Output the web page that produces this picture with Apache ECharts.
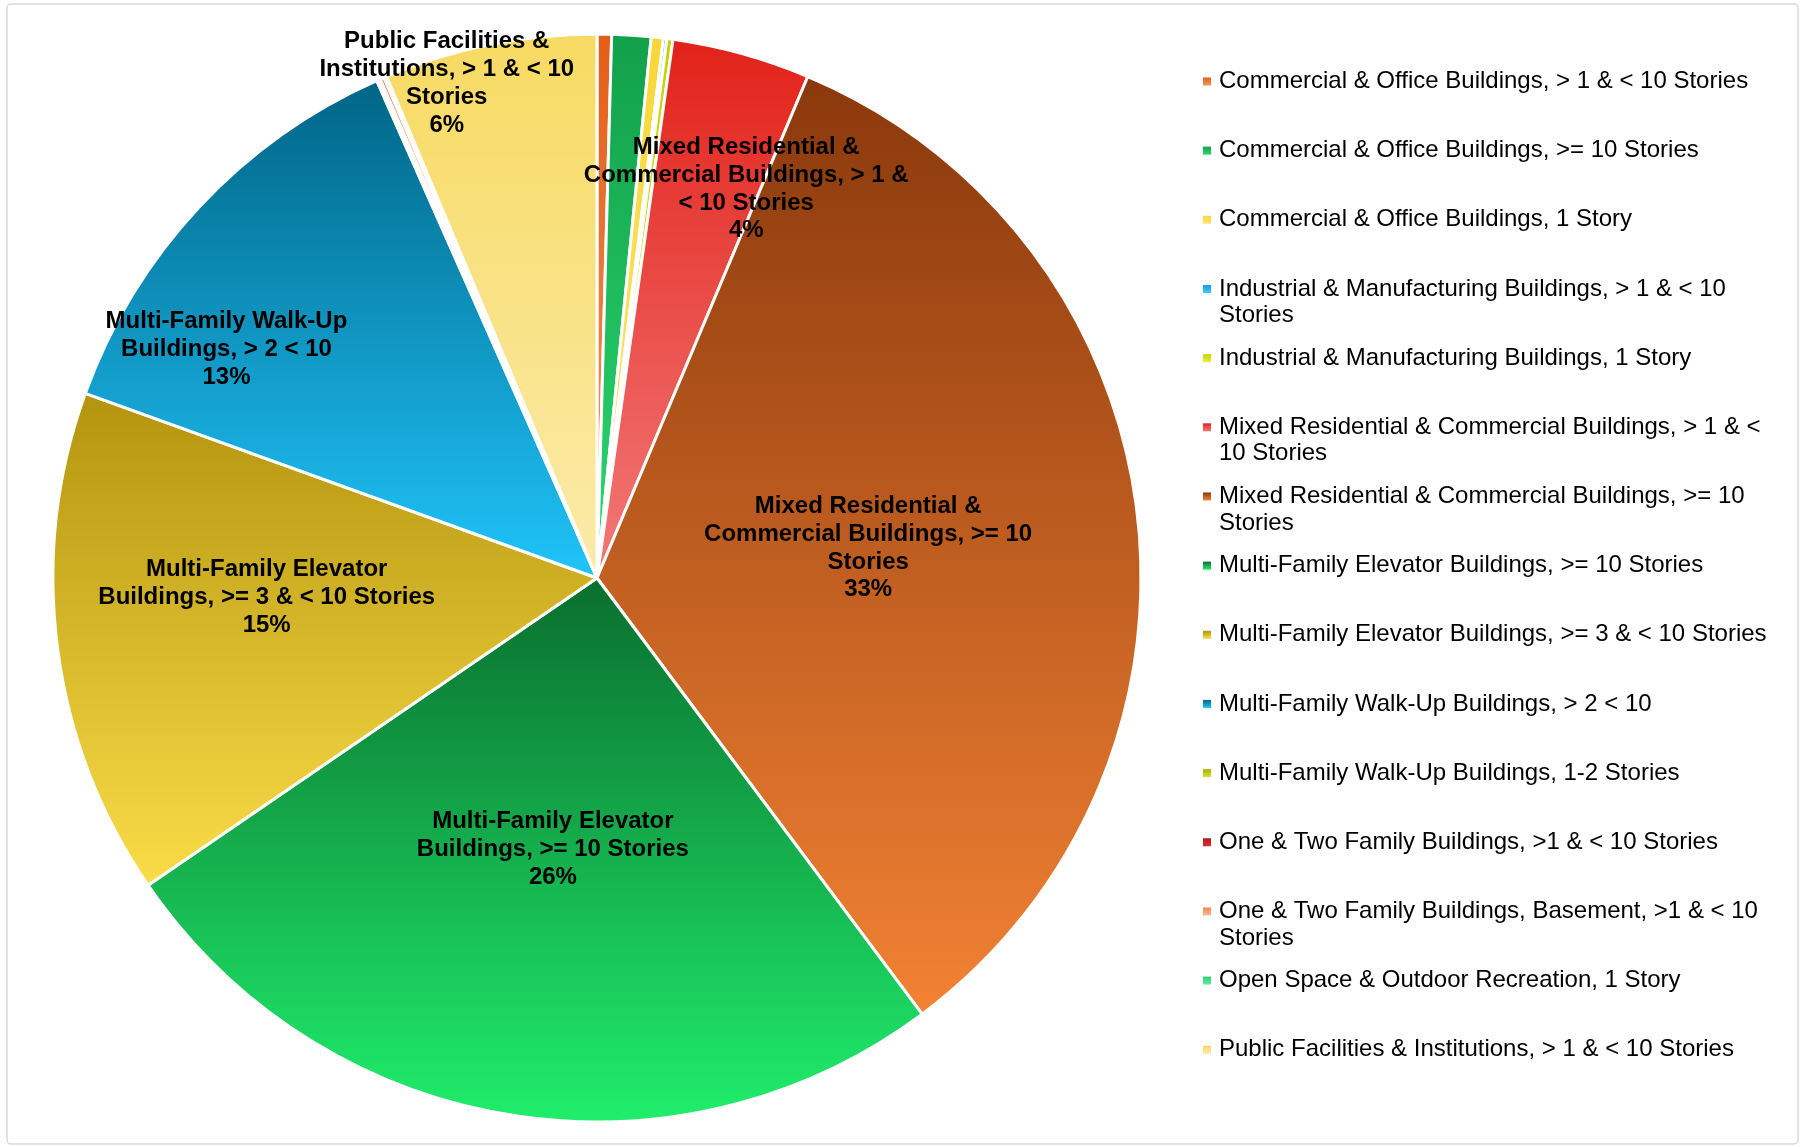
<!DOCTYPE html>
<html>
<head>
<meta charset="utf-8">
<script src="https://cdn.jsdelivr.net/npm/echarts@6/dist/echarts.min.js"></script>
<style>
  html, body { margin: 0; padding: 0; background: #ffffff; }
  #chart { width: 1801px; height: 1147px; }
</style>
</head>
<body>
<div id="chart"></div>
<script>
// Building types, in drawing order (clockwise from 12 o'clock)
const categories = [
  'Commercial & Office Buildings, > 1 & < 10 Stories',
  'Commercial & Office Buildings, >= 10 Stories',
  'Commercial & Office Buildings, 1 Story',
  'Industrial & Manufacturing Buildings, > 1 & < 10 Stories',
  'Industrial & Manufacturing Buildings, 1 Story',
  'Mixed Residential & Commercial Buildings, > 1 & < 10 Stories',
  'Mixed Residential & Commercial Buildings, >= 10 Stories',
  'Multi-Family Elevator Buildings, >= 10 Stories',
  'Multi-Family Elevator Buildings, >= 3 & < 10 Stories',
  'Multi-Family Walk-Up Buildings, > 2 < 10',
  'Multi-Family Walk-Up Buildings, 1-2 Stories',
  'One & Two Family Buildings, >1 & < 10 Stories',
  'One & Two Family Buildings, Basement, >1 & < 10 Stories',
  'Open Space & Outdoor Recreation, 1 Story',
  'Public Facilities & Institutions, > 1 & < 10 Stories'
];

// Share of each building type (percent)
const shares = [0.43, 1.16, 0.36, 0.10, 0.18, 4.10, 33.45, 25.63, 15.05, 12.85, 0.06, 0.05, 0.12, 0.08, 6.32];

// Legend entries as wrapped on screen
const legendText = [
  'Commercial & Office Buildings, > 1 & < 10 Stories',
  'Commercial & Office Buildings, >= 10 Stories',
  'Commercial & Office Buildings, 1 Story',
  'Industrial & Manufacturing Buildings, > 1 & < 10\nStories',
  'Industrial & Manufacturing Buildings, 1 Story',
  'Mixed Residential & Commercial Buildings, > 1 & <\n10 Stories',
  'Mixed Residential & Commercial Buildings, >= 10\nStories',
  'Multi-Family Elevator Buildings, >= 10 Stories',
  'Multi-Family Elevator Buildings, >= 3 & < 10 Stories',
  'Multi-Family Walk-Up Buildings, > 2 < 10',
  'Multi-Family Walk-Up Buildings, 1-2 Stories',
  'One & Two Family Buildings, >1 & < 10 Stories',
  'One & Two Family Buildings, Basement, >1 & < 10\nStories',
  'Open Space & Outdoor Recreation, 1 Story',
  'Public Facilities & Institutions, > 1 & < 10 Stories'
];

// Slice labels (null = slice too small to be labelled)
const sliceLabelText = [
  null, null, null, null, null,
  'Mixed Residential &\nCommercial Buildings, > 1 &\n< 10 Stories',
  'Mixed Residential &\nCommercial Buildings, >= 10\nStories',
  'Multi-Family Elevator\nBuildings, >= 10 Stories',
  'Multi-Family Elevator\nBuildings, >= 3 & < 10 Stories',
  'Multi-Family Walk-Up\nBuildings, > 2 < 10',
  null, null, null, null,
  'Public Facilities &\nInstitutions, > 1 & < 10\nStories'
];

// ---- styling ----
const FONT = '"Liberation Sans", Arial, Helvetica, sans-serif';
const CX = 597, CY = 578, R = 544;

// vertical gradient per slice: [top, bottom]
const palette = [
  ['#E35D17', '#F39A5F'],
  ['#12A04A', '#2CD870'],
  ['#F7D737', '#FAE77A'],
  ['#14A0E0', '#40C8F8'],
  ['#C8D000', '#E8F040'],
  ['#E2221A', '#F27A78'],
  ['#8A380C', '#F28234'],
  ['#0A6E2E', '#20EE6C'],
  ['#B4940E', '#FADC48'],
  ['#006586', '#20C4FA'],
  ['#A8B000', '#D8E030'],
  ['#B01818', '#E03030'],
  ['#F08A58', '#F8B890'],
  ['#30D070', '#60F0A0'],
  ['#F7DA62', '#FBEBAA']
];

// label anchor per slice: [fraction of radius, angle clockwise from 12 o'clock]
const labelAnchors = {
  5: [0.770, 20.87],
  6: [0.502, 83.18],
  7: [0.501, 189.31],
  8: [0.608, 267.05],
  9: [0.803, 301.98],
  14: [0.955, 343.19]
};

const gradient = (top, bottom) => new echarts.graphic.LinearGradient(0, 0, 0, 1, [
  { offset: 0, color: top },
  { offset: 1, color: bottom }
]);

const pieData = categories.map((name, i) => ({
  name: name,
  value: shares[i],
  itemStyle: { color: gradient(palette[i][0], palette[i][1]) },
  label: { show: sliceLabelText[i] !== null }
}));

// one legend block per entry so that every row sits on a fixed pitch;
// wrapped entries get a blank leading line so the marker sits on the first line
const LH = 26.5;
const legends = categories.map((name, i) => {
  const twoLine = legendText[i].indexOf('\n') >= 0;
  const yc = 81.5 + 69.16 * i;
  const shown = twoLine ? '\u00a0\n' + legendText[i] : legendText[i];
  return {
    orient: 'vertical',
    left: 1203,
    top: twoLine ? yc - 1.5 * LH : yc - LH / 2,
    padding: 0,
    icon: 'rect',
    itemWidth: 8,
    itemHeight: 8,
    itemStyle: { borderWidth: 0 },
    selectedMode: false,
    data: [name],
    formatter: () => shown,
    textStyle: {
      fontFamily: FONT,
      fontSize: 24,
      lineHeight: LH,
      color: '#000000',
      padding: [0, 0, 0, 3]
    }
  };
});

const chart = echarts.init(document.getElementById('chart'), null, { renderer: 'canvas' });

chart.setOption({
  backgroundColor: '#ffffff',
  animation: false,
  graphic: [{
    type: 'rect',
    shape: { x: 7, y: 4, width: 1791, height: 1140, r: 4 },
    style: { fill: 'none', stroke: '#D9D9D9', lineWidth: 1.5 },
    silent: true,
    z: -10
  }],
  legend: legends,
  series: [{
    type: 'pie',
    center: [CX, CY],
    radius: R,
    startAngle: 90,
    clockwise: true,
    avoidLabelOverlap: false,
    data: pieData,
    itemStyle: { borderColor: '#ffffff', borderWidth: 3 },
    label: {
      position: 'inside',
      formatter: p => sliceLabelText[p.dataIndex] + '\n' + Math.round(p.percent) + '%',
      fontFamily: FONT,
      fontSize: 24,
      fontWeight: 'bold',
      lineHeight: 27.8,
      color: '#000000',
      align: 'center'
    },
    labelLine: { show: false },
    labelLayout: p => {
      const a = labelAnchors[p.dataIndex];
      if (!a) return {};
      const ang = a[1] * Math.PI / 180;
      return {
        x: CX + a[0] * R * Math.sin(ang),
        y: CY - a[0] * R * Math.cos(ang) + 2.5,
        align: 'center',
        verticalAlign: 'middle'
      };
    },
    emphasis: { scale: false }
  }]
});
</script>
</body>
</html>
